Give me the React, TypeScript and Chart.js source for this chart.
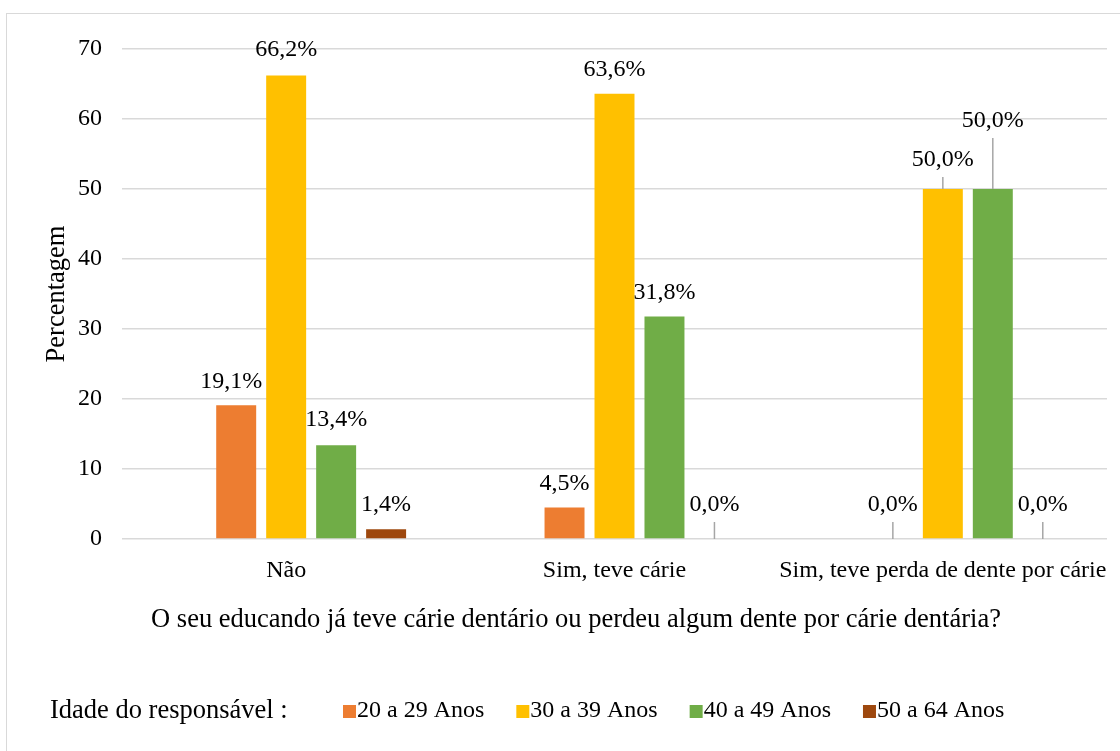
import { useEffect, useRef } from "react";
import { Chart, registerables } from "chart.js";

Chart.register(...registerables);

const categories = ["Não", "Sim, teve cárie", "Sim, teve perda de dente por cárie"];
const seriesNames = ["20 a 29 Anos", "30 a 39 Anos", "40 a 49 Anos", "50 a 64 Anos"];
const s20a29 = [19.1, 4.5, 0.0];
const s30a39 = [66.2, 63.6, 50.0];
const s40a49 = [13.4, 31.8, 50.0];
const s50a64 = [1.4, 0.0, 0.0];
const yTicks = [0, 10, 20, 30, 40, 50, 60, 70];

const seriesValues = [s20a29, s30a39, s40a49, s50a64];
const colors = ["#ED7D31", "#FFC000", "#70AD47", "#9E480E"];
// label lift above bar top (px) and horizontal nudge, per series per category
const labelLift = [
  [24, 24, 34],
  [26, 24, 29],
  [25, 24, 68],
  [24, 34, 34],
];
const labelNudge = [
  [-5, 0, 0],
  [0, 0, 0],
  [0, 0, 0],
  [0, 0, 0],
];

const FONT_FAMILY = '"Liberation Serif", "Times New Roman", serif';
const FONT_SIZE = 24;
const TITLE_SIZE = 26.5;
const TEXT_COLOR = "#000000";
const xTitle = "O seu educando já teve cárie dentário ou perdeu algum dente por cárie dentária?";
const yTitle = "Percentagem";
const legendTitle = "Idade do responsável :";

const fmt = (v: number) => v.toFixed(1).replace(".", ",") + "%";

const overlayPlugin = {
  id: "overlay",
  afterDatasetsDraw(chart: any) {
    const ctx = chart.ctx as CanvasRenderingContext2D;
    const area = chart.chartArea;
    ctx.save();
    ctx.font = `${FONT_SIZE}px ${FONT_FAMILY}`;
    ctx.fillStyle = TEXT_COLOR;
    ctx.textAlign = "center";
    ctx.textBaseline = "middle";
    for (let s = 0; s < seriesValues.length; s++) {
      const meta = chart.getDatasetMeta(s + 1);
      meta.data.forEach((bar: any, i: number) => {
        const v = seriesValues[s][i];
        if (v === null || v === undefined) return;
        const lift = labelLift[s][i];
        const ly = bar.y - lift;
        const lx = bar.x + labelNudge[s][i];
        if (lift > 28) {
          ctx.strokeStyle = "#A6A6A6";
          ctx.lineWidth = 1.5;
          ctx.beginPath();
          ctx.moveTo(bar.x, ly + 17);
          ctx.lineTo(bar.x, bar.y);
          ctx.stroke();
        }
        ctx.fillText(fmt(v), lx, ly);
      });
    }
    ctx.font = `${TITLE_SIZE}px ${FONT_FAMILY}`;
    // y title
    ctx.save();
    ctx.translate(area.left - 65, (area.top + area.bottom) / 2);
    ctx.rotate(-Math.PI / 2);
    ctx.fillText(yTitle, 0, 0);
    ctx.restore();
    // x title
    ctx.fillText(xTitle, 576, area.bottom + 81);
    // legend
    const ly = area.bottom + 172;
    ctx.textAlign = "left";
    ctx.fillText(legendTitle, 50, ly);
    ctx.font = `${FONT_SIZE}px ${FONT_FAMILY}`;
    let x = 343;
    seriesNames.forEach((name, i) => {
      ctx.fillStyle = colors[i];
      ctx.fillRect(x, ly - 6, 13, 13);
      ctx.fillStyle = TEXT_COLOR;
      ctx.fillText(name, x + 14, ly);
      x += 14 + ctx.measureText(name).width + 32;
    });
    ctx.restore();
  },
};

export default function App() {
  const ref = useRef<HTMLCanvasElement>(null);
  useEffect(() => {
    const canvas = ref.current!;
    const chart = new Chart(canvas, {
      type: "bar",
      data: {
        labels: categories,
        datasets: [
          { label: "", data: [null, null, null], backgroundColor: "transparent" },
          ...seriesValues.map((vals, i) => ({
            label: seriesNames[i],
            data: vals,
            backgroundColor: colors[i],
            borderWidth: 0,
          })),
        ],
      } as any,
      options: {
        responsive: false,
        animation: false,
        layout: { padding: { top: 49, right: 13, left: 0, bottom: 0 } },
        plugins: { legend: { display: false }, tooltip: { enabled: false } },
        datasets: { bar: { categoryPercentage: 0.761, barPercentage: 0.8 } },
        scales: {
          x: {
            grid: { display: false },
            border: { display: false },
            ticks: {
              font: { family: FONT_FAMILY, size: FONT_SIZE },
              color: TEXT_COLOR,
              padding: 9,
              maxRotation: 0,
              autoSkip: false,
            },
            afterFit: (s: any) => {
              s.height = 212;
            },
          },
          y: {
            min: 0,
            max: 70,
            afterBuildTicks: (s: any) => {
              s.ticks = yTicks.map((v) => ({ value: v }));
            },
            ticks: { font: { family: FONT_FAMILY, size: FONT_SIZE }, color: TEXT_COLOR, padding: 20 },
            grid: { color: "#D9D9D9", lineWidth: 1.5, drawTicks: false },
            border: { display: false },
            afterFit: (s: any) => {
              s.width = 122;
            },
          },
        },
      } as any,
      plugins: [overlayPlugin],
    });
    return () => chart.destroy();
  }, []);
  return (
    <div style={{ position: "fixed", left: 0, top: 0, width: 1120, height: 751, overflow: "hidden", background: "#fff" }}>
      <div
        style={{
          position: "absolute",
          left: 6,
          top: 13,
          width: 1140,
          height: 780,
          border: "1.5px solid #D9D9D9",
          boxSizing: "border-box",
        }}
      />
      <canvas ref={ref} width={1120} height={751} style={{ position: "absolute", left: 0, top: 0, display: "block" }} />
    </div>
  );
}
